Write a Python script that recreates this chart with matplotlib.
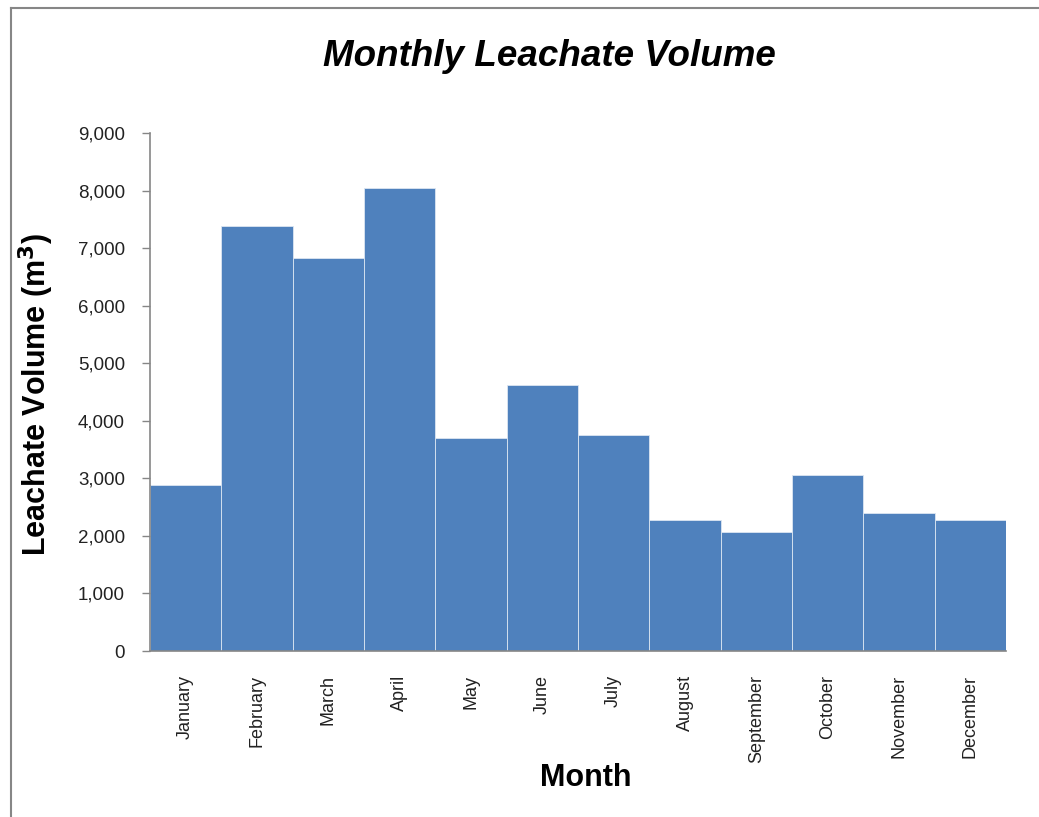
import matplotlib
matplotlib.use("Agg")
import matplotlib.pyplot as plt
from matplotlib.lines import Line2D
from matplotlib.ticker import FuncFormatter

months = ["January", "February", "March", "April", "May", "June",
          "July", "August", "September", "October", "November", "December"]
volume = [2890, 7390, 6820, 8050, 3700, 4620,
          3750, 2270, 2060, 3060, 2390, 2270]

plt.rcParams['font.family'] = ['Liberation Sans', 'DejaVu Sans']

fig = plt.figure(figsize=(10.39, 8.17), dpi=100)
ax = fig.add_axes([150 / 1039, 1 - 651 / 817, 856 / 1039, 518 / 817])

x = list(range(len(months)))
ax.bar(x, volume, width=1.0, color="#4F81BD", edgecolor="#DCE6F2", linewidth=0.6)

ax.set_xlim(-0.5, len(months) - 0.5)
ax.set_ylim(0, 9000)
ax.set_yticks(range(0, 9001, 1000))
ax.yaxis.set_major_formatter(FuncFormatter(lambda v, p: f"{int(v):,}"))
ax.set_xticks(x)
ax.set_xticklabels(months, rotation=90, fontsize=13, color="#222222")
ax.tick_params(axis='x', length=0, pad=17)
ax.tick_params(axis='y', length=6, width=1, color="#868686", labelsize=13.5,
               labelcolor="#222222", pad=12)

for s in ["top", "right"]:
    ax.spines[s].set_visible(False)
for s in ["left", "bottom"]:
    ax.spines[s].set_color("#868686")
    ax.spines[s].set_linewidth(1.2)

fig.text(549 / 1039, 1 - 56 / 817, "Monthly Leachate Volume", ha="center", va="center",
         fontsize=26.5, fontweight="bold", fontstyle="italic")
fig.text(36 / 1039, 1 - 394 / 817, "Leachate Volume (m$^\\mathbf{3}$)", ha="center", va="center",
         rotation=90, fontsize=22, fontweight="bold")
fig.text(586 / 1039, 1 - 778 / 817, "Month", ha="center", va="center",
         fontsize=22, fontweight="bold")

# chart border
fig.add_artist(Line2D([11 / 1039, 11 / 1039], [0, 1 - 8 / 817], transform=fig.transFigure,
                      color="#868686", linewidth=1.5))
fig.add_artist(Line2D([11 / 1039, 1], [1 - 8 / 817, 1 - 8 / 817], transform=fig.transFigure,
                      color="#868686", linewidth=1.5))

fig.savefig("out.png", dpi=100)
